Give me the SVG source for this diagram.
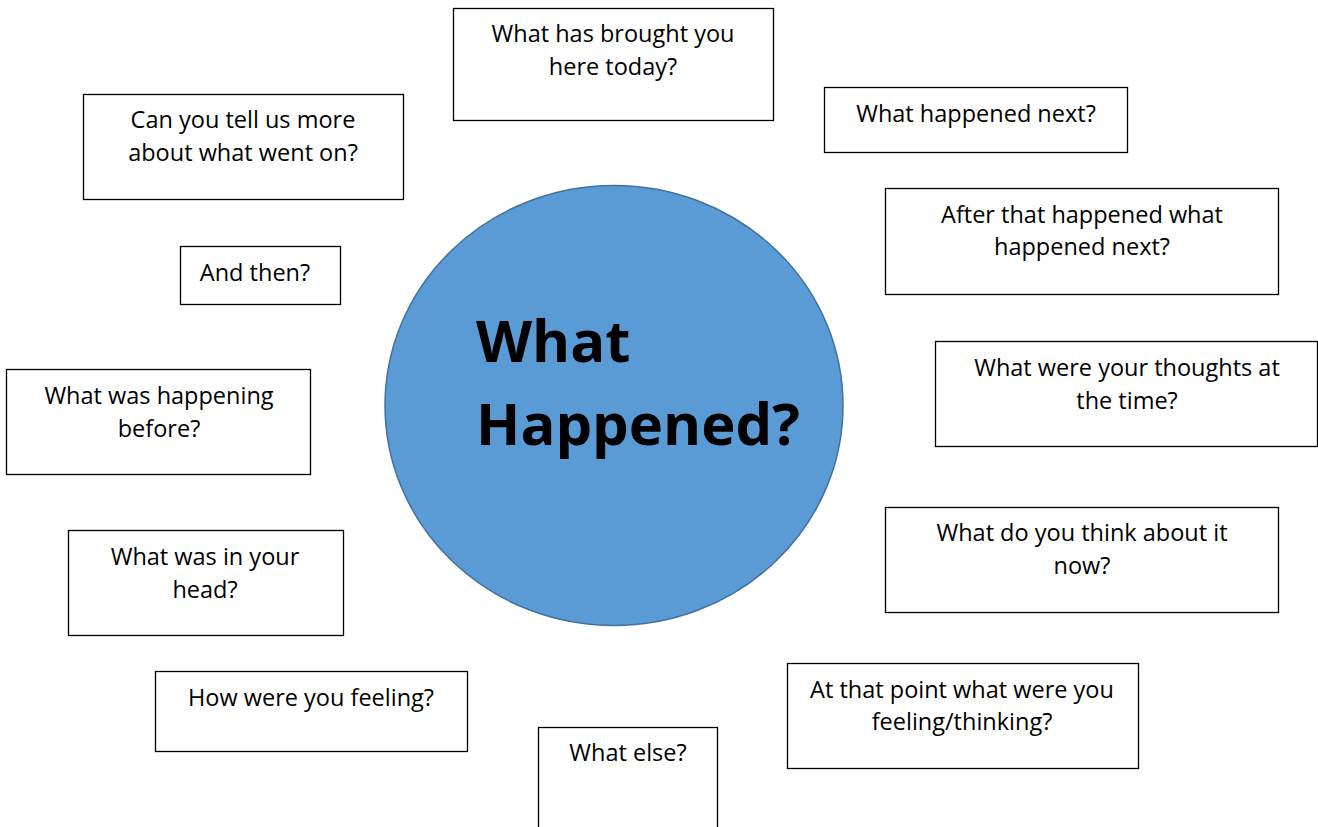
<svg xmlns="http://www.w3.org/2000/svg" width="1318" height="827" viewBox="0 0 1318 827">
<style>
.box{fill:#fff;stroke:#000;stroke-width:1.3}
.t{font-family:"Open Sans","Liberation Sans",sans-serif;font-size:23.5px;fill:#000;text-anchor:middle}
.c{font-family:"Open Sans","Liberation Sans",sans-serif;font-size:58px;font-weight:bold;fill:#000}
</style>
<rect width="1318" height="827" fill="#fff"/>
<g id="center">
<ellipse cx="614" cy="405.5" rx="229" ry="220" fill="#5B9BD5" stroke="#41719C" stroke-width="1.5"/>
<text class="c" x="476" y="362">What</text>
<text class="c" x="476" y="445">Happened?</text>
</g>
<g id="connectors"></g>
<g id="n1"><rect class="box" x="453.5" y="8.5" width="320" height="112"/><text class="t" x="613" y="42">What has brought you</text><text class="t" x="613" y="75">here today?</text></g>
<g id="n2"><rect class="box" x="824.5" y="87.5" width="303" height="65"/><text class="t" x="976" y="122">What happened next?</text></g>
<g id="n3"><rect class="box" x="83.5" y="94.5" width="320" height="105"/><text class="t" x="243" y="128">Can you tell us more</text><text class="t" x="243" y="161">about what went on?</text></g>
<g id="n4"><rect class="box" x="885.5" y="188.5" width="393" height="106"/><text class="t" x="1082" y="223">After that happened what</text><text class="t" x="1082" y="255">happened next?</text></g>
<g id="n5"><rect class="box" x="180.5" y="246.5" width="160" height="58"/><text class="t" x="255" y="281">And then?</text></g>
<g id="n6"><rect class="box" x="935.5" y="341.5" width="382" height="105"/><text class="t" x="1127" y="376">What were your thoughts at</text><text class="t" x="1127" y="409">the time?</text></g>
<g id="n7"><rect class="box" x="6.5" y="369.5" width="304" height="105"/><text class="t" x="159" y="404">What was happening</text><text class="t" x="159" y="437">before?</text></g>
<g id="n8"><rect class="box" x="885.5" y="507.5" width="393" height="105"/><text class="t" x="1082" y="541">What do you think about it</text><text class="t" x="1082" y="574">now?</text></g>
<g id="n9"><rect class="box" x="68.5" y="530.5" width="275" height="105"/><text class="t" x="205" y="565">What was in your</text><text class="t" x="205" y="598">head?</text></g>
<g id="n10"><rect class="box" x="155.5" y="671.5" width="312" height="80"/><text class="t" x="311" y="706">How were you feeling?</text></g>
<g id="n11"><rect class="box" x="787.5" y="663.5" width="351" height="105"/><text class="t" x="962" y="698">At that point what were you</text><text class="t" x="962" y="730">feeling/thinking?</text></g>
<g id="n12"><rect class="box" x="538.5" y="727.5" width="179" height="110"/><text class="t" x="628" y="761">What else?</text></g>
</svg>
